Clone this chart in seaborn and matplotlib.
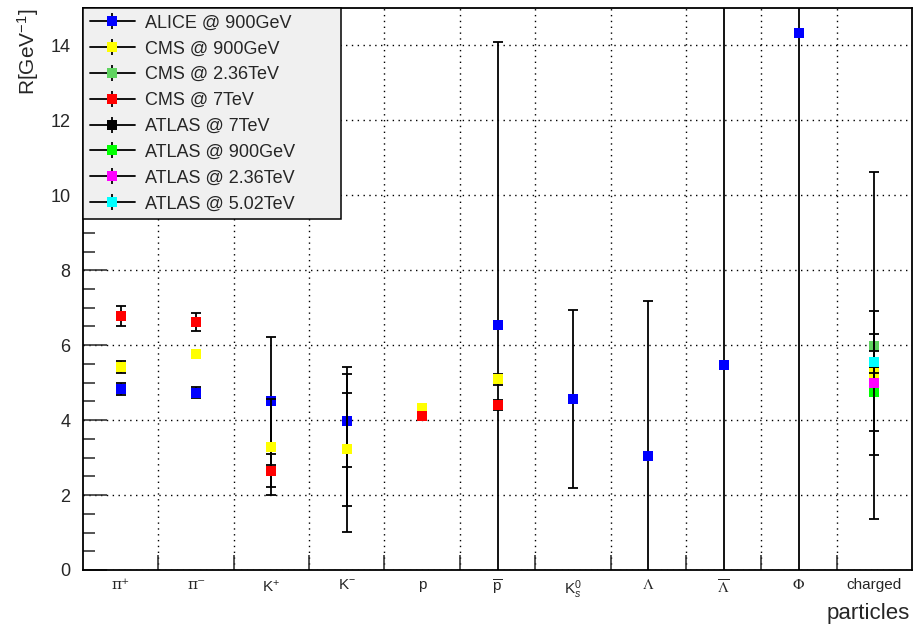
import numpy as np
import pandas as pd
import matplotlib
matplotlib.use("Agg")
import matplotlib.pyplot as plt
import seaborn as sns
from matplotlib.lines import Line2D
from matplotlib.legend_handler import HandlerTuple
from matplotlib.ticker import MultipleLocator, FixedLocator

nan = np.nan

# particle species along the x axis
particles = ["pi+", "pi-", "K+", "K-", "p", "pbar", "K0s", "Lambda", "Lambdabar", "Phi", "charged"]
tick_labels = ["π⁺", "π⁻", r"K$^{+}$", r"K$^{-}$", "p", r"$\overline{\mathrm{p}}$",
               r"K$^{0}_{s}$", r"$\Lambda$", r"$\overline{\Lambda}$", r"$\Phi$", "charged"]
greek_ticks = [7, 8, 9]

# source radius R [GeV^-1] with lower / upper errors
alice_900 = [4.83, 4.73, 4.52, 3.99, nan, 6.53, 4.57, 3.05, 5.47, 14.34, nan]
alice_900_lo = [0.15, 0.15, 1.71, 1.25, nan, 7.57, 2.37, 4.14, 10.0, 15.0, nan]
alice_900_hi = alice_900_lo

cms_900 = [5.42, 5.77, 3.28, 3.22, 4.32, 5.09, nan, nan, nan, nan, 5.26]
cms_900_lo = [0.16, 0.05, 1.28, 2.21, 0.10, 0.15, nan, nan, nan, nan, 0.05]
cms_900_hi = cms_900_lo
cms_900_inner = [nan, nan, nan, 1.51, nan, nan, nan, nan, nan, nan, nan]

cms_236 = [nan] * 10 + [5.99]
cms_236_lo = [nan] * 10 + [4.64]
cms_236_hi = cms_236_lo

cms_7 = [6.77, 6.61, 2.65, nan, 4.10, 4.41, nan, nan, nan, nan, nan]
cms_7_lo = [0.27, 0.24, 0.44, nan, 0.05, 0.13, nan, nan, nan, nan, nan]
cms_7_hi = cms_7_lo

atlas_7 = [nan] * 10 + [5.42]
atlas_7_lo = [nan] * 10 + [0.02]
atlas_7_hi = atlas_7_lo

atlas_900 = [nan] * 10 + [4.76]
atlas_900_lo = [nan] * 10 + [1.06]
atlas_900_hi = [nan] * 10 + [1.55]

atlas_236 = [nan] * 10 + [4.99]
atlas_236_lo = [nan] * 10 + [1.91]
atlas_236_hi = atlas_236_lo

atlas_502 = [nan] * 10 + [5.55]
atlas_502_lo = [nan] * 10 + [0.30]
atlas_502_hi = atlas_502_lo

series_names = ["ALICE @ 900GeV", "CMS @ 900GeV", "CMS @ 2.36TeV", "CMS @ 7TeV",
                "ATLAS @ 7TeV", "ATLAS @ 900GeV", "ATLAS @ 2.36TeV", "ATLAS @ 5.02TeV"]
series_colors = ["#0000ff", "#ffff00", "#5fd35f", "#ff0000",
                 "#000000", "#00ff00", "#ff00ff", "#00ffff"]
series_values = [alice_900, cms_900, cms_236, cms_7, atlas_7, atlas_900, atlas_236, atlas_502]
series_lo = [alice_900_lo, cms_900_lo, cms_236_lo, cms_7_lo, atlas_7_lo, atlas_900_lo, atlas_236_lo, atlas_502_lo]
series_hi = [alice_900_hi, cms_900_hi, cms_236_hi, cms_7_hi, atlas_7_hi, atlas_900_hi, atlas_236_hi, atlas_502_hi]
# stacking order of the markers (higher = drawn on top)
series_layer = [1, 2, 3, 4, 0, 5, 6, 7]

rows = []
for name, vals, lo, hi in zip(series_names, series_values, series_lo, series_hi):
    for i, part in enumerate(particles):
        rows.append({"series": name, "particle": part, "pos": i + 0.5,
                     "R": vals[i], "lo": lo[i], "hi": hi[i]})
df = pd.DataFrame(rows).dropna(subset=["R"])

sns.set_theme(style="white")
plt.rcParams["font.family"] = ["Liberation Sans", "DejaVu Sans"]
plt.rcParams["mathtext.fontset"] = "custom"
plt.rcParams["mathtext.rm"] = "Liberation Sans"
plt.rcParams["mathtext.it"] = "Liberation Sans:italic"
plt.rcParams["mathtext.sf"] = "Liberation Sans"

fig = plt.figure(figsize=(9.15, 6.25), dpi=100)
fig.patch.set_facecolor("white")
ax = fig.add_axes([83 / 915, 55 / 625, 829 / 915, 562 / 625])
ax.set_facecolor("white")

err_kw = dict(fmt="none", ecolor="black", elinewidth=1.3, capsize=3.5, capthick=1.3)
for name, color, layer in zip(series_names, series_colors, series_layer):
    sub = df[df["series"] == name]
    ax.errorbar(sub["pos"], sub["R"], yerr=[sub["lo"], sub["hi"]], zorder=3 + 2 * layer, **err_kw)
    if name == "CMS @ 900GeV":
        inner = np.array([cms_900_inner[particles.index(p)] for p in sub["particle"]])
        ax.errorbar(sub["pos"], sub["R"], yerr=inner, zorder=3 + 2 * layer, **err_kw)
    sns.scatterplot(data=sub, x="pos", y="R", ax=ax, color=color, marker="s", s=44,
                    linewidth=0, zorder=4 + 2 * layer, legend=False)

ax.set_xlim(0, 11)
ax.set_ylim(0, 15)
ax.set_xlabel("")
ax.set_ylabel("")

# bin centres carry the labels, bin edges carry the ticks and grid
ax.xaxis.set_major_locator(FixedLocator(np.arange(len(particles)) + 0.5))
ax.set_xticklabels(tick_labels)
ax.xaxis.set_minor_locator(FixedLocator(np.arange(1, len(particles))))
ax.tick_params(axis="x", which="major", length=0, pad=6, labelsize=11)
ax.tick_params(axis="x", which="minor", direction="in", length=10.5, width=1.1, bottom=True)
xt = ax.get_xticklabels()
for i in greek_ticks:
    xt[i].set_math_fontfamily("stix")
for i in (0, 1):
    xt[i].set_family(["DejaVu Serif", "DejaVu Sans"])
    xt[i].set_fontsize(11)

ax.yaxis.set_major_locator(MultipleLocator(2))
ax.yaxis.set_minor_locator(MultipleLocator(0.5))
ax.tick_params(axis="y", which="major", direction="in", length=17, width=1.1, pad=9, labelsize=13, left=True)
ax.tick_params(axis="y", which="minor", direction="in", length=8.5, width=1.1, left=True)

grid_kw = dict(color="black", linewidth=1.0, linestyle=(0, (1, 3.2)))
ax.grid(False)
ax.grid(True, which="minor", axis="x", **grid_kw)
ax.grid(True, which="major", axis="y", **grid_kw)
ax.set_axisbelow(True)

for side in ["left", "right", "top", "bottom"]:
    ax.spines[side].set_visible(True)
    ax.spines[side].set_color("black")
    ax.spines[side].set_linewidth(1.3)

fig.text(28 / 915, 1 - 9 / 625, r"R[GeV$^{-1}$]", rotation=90, ha="center", va="top", fontsize=15)
fig.text(910 / 915, 1 - 619 / 625, "particles", ha="right", va="baseline", fontsize=16)

handles = []
for color in series_colors:
    hline = Line2D([], [], color="black", lw=1.3)
    vbar = Line2D([], [], color="black", marker="|", markersize=11, markeredgewidth=1.3, linestyle="none")
    box = Line2D([], [], color=color, marker="s", markersize=6.5, markeredgewidth=0, linestyle="none")
    handles.append((hline, vbar, box))

leg_w = (341 - 83) / 829
leg = ax.legend(handles, series_names, handler_map={tuple: HandlerTuple(ndivide=1)},
                loc="upper left", bbox_to_anchor=(0, 0, leg_w, 1), mode="expand",
                borderaxespad=0, fontsize=13,
                frameon=True, fancybox=False, framealpha=1, facecolor="#f0f0f0", edgecolor="black",
                handlelength=2.5, handletextpad=0.55, labelspacing=0.49, borderpad=0.36)
leg.get_frame().set_linewidth(1.1)
leg.set_zorder(30)

fig.savefig("out.png", dpi=100, facecolor="white")
